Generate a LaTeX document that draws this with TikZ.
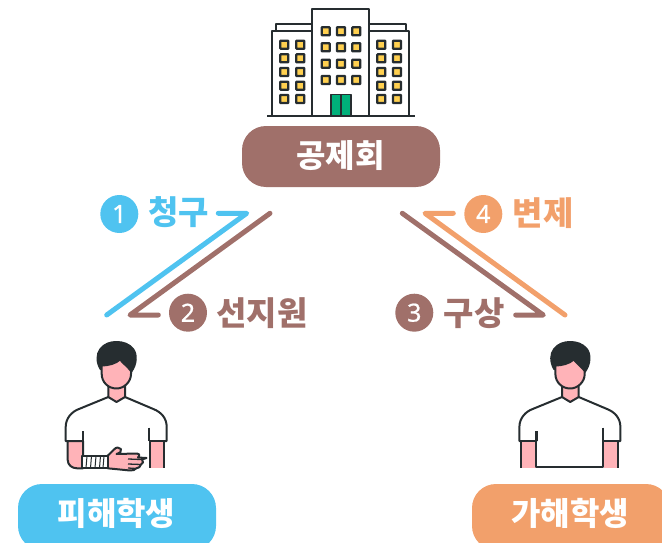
\documentclass[tikz,border=0pt]{standalone}
\usepackage{fontspec}
\setmainfont{Noto Sans CJK KR}
\newfontfamily\digitfont{Noto Sans}[FakeBold=0.8]
\definecolor{inkc}{HTML}{262D30}
\definecolor{brownc}{HTML}{A0706A}
\definecolor{bluec}{HTML}{4FC3F0}
\definecolor{orangec}{HTML}{F2A06B}
\definecolor{pinkc}{HTML}{FFB3B8}
\definecolor{yellowc}{HTML}{FFD04F}
\definecolor{greenc}{HTML}{00B07A}
\tikzset{
  pill/.style={text=white,font=\bfseries\fontsize{32}{32}\selectfont},
  flow/.style={line width=5pt,line cap=round,line join=round},
  num/.style={circle,minimum size=38pt,inner sep=0pt,text=white,font=\digitfont\fontsize{25}{25}\selectfont},
  lab/.style={inner sep=0pt,font=\bfseries\fontsize{33}{33}\selectfont},
  ink/.style={draw=inkc,line width=2pt,line join=round},
  wall/.style={draw=inkc,line width=1.8pt,line join=round},
  win/.style={draw=inkc,line width=2.2pt,fill=yellowc,minimum size=8pt,inner sep=0pt,rectangle,rounded corners=0.5pt},
}
\newcommand{\personbody}{%
  \fill[white] (65.7,441) -- (65.7,426.7) .. controls (65.7,417) and (72,411) .. (79,409) -- (108.3,397) -- (125,397) -- (153.3,409) .. controls (161,412) and (166.7,418) .. (166.7,427) -- (166.7,441) -- (149.3,441) -- (149.3,468) -- (83.3,468) -- (83.3,441) -- cycle;
  \draw[ink,fill=pinkc] (108.3,380) -- (108.3,397) -- (116.5,402) -- (125,397) -- (125,380);
  \draw[ink,fill=inkc] (100.5,369) .. controls (96.5,362) and (96.5,354) .. (100.5,349) .. controls (104.5,344) and (110,342) .. (116.5,342) .. controls (123,342) and (129,344) .. (133,349) .. controls (137,354) and (137,364) .. (131,372) -- cycle;
  \draw[ink,fill=pinkc] (101.7,365.5) .. controls (108,365.5) and (116,363.5) .. (120,359.5) .. controls (124,364) and (128,367) .. (131,371) -- (131,374) .. controls (131,382) and (124,388.5) .. (116.5,388.5) .. controls (108,388.5) and (101.7,382) .. (101.7,374) -- cycle;
  \draw[ink] (108.3,397) -- (79,409) .. controls (72,411.5) and (65.7,418) .. (65.7,427) -- (65.7,441) -- (83.3,441);
  \draw[ink] (125,397) -- (153.3,409) .. controls (161,412) and (166.7,418) .. (166.7,427) -- (166.7,441) -- (149.3,441);
  \draw[ink] (83.3,431) -- (83.3,441);
  \draw[ink] (149.3,427.7) -- (149.3,441);
}
\begin{document}
\begin{tikzpicture}[x=1pt,y=-1pt]
\useasboundingbox (0,0) rectangle (662,543);
% building
\draw[wall,fill=white] (276,31) -- (276,24) -- (406,24) -- (406,31);
\draw[wall,fill=white] (272,116) -- (272,31) -- (409,31) -- (409,116);
\draw[wall,fill=white] (312,116) -- (312,9) -- (369,9) -- (369,116);
\foreach \wx in {325.7,341,356.3} \foreach \wy in {31.3,47.3,63.7,80}
  \node[win] (w\wx-\wy) at (\wx,\wy) {};
\foreach \wx in {284.3,300.3,381.3,397} \foreach \wy in {44.7,58.3,72,85.7,99}
  \node[win] (v\wx-\wy) at (\wx,\wy) {};
\draw[wall,fill=greenc] (331,116) -- (331,94.5) -- (351,94.5) -- (351,116);
\draw[wall] (341,94.5) -- (341,116);
\draw[wall] (267,116) -- (415,116);
% pills
\fill[brownc,rounded corners=24pt] (242,126) rectangle (440,187);
\node[pill] (gj) at (340.5,156) {공제회};
\fill[bluec,rounded corners=24pt] (18,484) rectangle (216,550);
\node[pill] (vic) at (116.5,513.5) {피해학생};
\fill[orangec,rounded corners=24pt] (472,484) rectangle (670,550);
\node[pill] (off) at (570,513.5) {가해학생};
% connector ends
\coordinate (a1) at (106.7,315); \coordinate (a2) at (246.7,213.3); \coordinate (a3) at (218.3,213.3);
\coordinate (b1) at (270,213.3); \coordinate (b2) at (130,315); \coordinate (b3) at (158.3,315);
\coordinate (c1) at (402.3,213.3); \coordinate (c2) at (543.3,315); \coordinate (c3) at (515.7,315);
\coordinate (d1) at (565,315); \coordinate (d2) at (425,213.3); \coordinate (d3) at (453.3,213.3);
\draw[flow,bluec] (a1) -- (a2) -- (a3);
\draw[flow,brownc] (b1) -- (b2) -- (b3);
\draw[flow,brownc] (c1) -- (c2) -- (c3);
\draw[flow,orangec] (d1) -- (d2) -- (d3);
% labels
\node[num,fill=bluec] (n1) at (119.3,214) {1};
\node[lab,text=bluec] (l1) at (178.5,212) {청구};
\node[num,fill=brownc] (n2) at (188,312.7) {2};
\node[lab,text=brownc] (l2) at (262,313) {선지원};
\node[num,fill=brownc] (n3) at (414.3,312.7) {3};
\node[lab,text=brownc] (l3) at (474,313) {구상};
\node[num,fill=orangec] (n4) at (483.3,214) {4};
\node[lab,text=orangec] (l4) at (543,213) {변제};
% injured student
\personbody
\draw[ink,fill=pinkc] (67.7,441) -- (67.7,460) .. controls (67.7,465) and (72,468.3) .. (77,468.3) -- (83,468.3) -- (83,441) -- cycle;
\draw[ink,fill=pinkc] (107.7,455.7) -- (114,449.5) .. controls (116,447) and (119,447) .. (121,449) .. controls (122,451) and (120,453) .. (116.5,454) -- (137,453.5) .. controls (140,454) and (140,456.5) .. (138,457.5) -- (146.5,458) -- (142,459.5) .. controls (144,461) and (143,464) .. (141,464.5) .. controls (141,467) and (138,468) .. (136,468.5) .. controls (135,470) and (133,470.5) .. (130,470.5) -- (107.7,468.3) -- cycle;
\draw[inkc,line width=1.3pt] (128,459) -- (141,459.5) (128,464) -- (141,464.5) (128,468) -- (136,468.5);
\draw[ink,fill=white] (82.3,455.7) -- (107.7,455.7) -- (107.7,468.3) -- (82.3,468.3) -- cycle;
\foreach \bx in {87,91.5,96,100.5,104} \draw[inkc,line width=1pt] (\bx,456) -- (\bx-1,468);
\fill[pinkc] (150.5,441.8) rectangle (163.5,468.3);
\draw[ink] (150,441) -- (150,468.3) (164,441) -- (164,468.3);
% offender student
\begin{scope}[shift={(453.7,0)}]
\personbody
\fill[pinkc] (67.5,441.8) rectangle (82,468.3);
\draw[ink] (67,441) -- (67,468.3) (82.5,431) -- (82.5,467) -- (149.5,467) -- (149.5,427.7);
\fill[pinkc] (150.2,441.8) rectangle (164,468.3);
\draw[ink] (164.5,441) -- (164.5,468.3);
\end{scope}
\end{tikzpicture}
\end{document}
